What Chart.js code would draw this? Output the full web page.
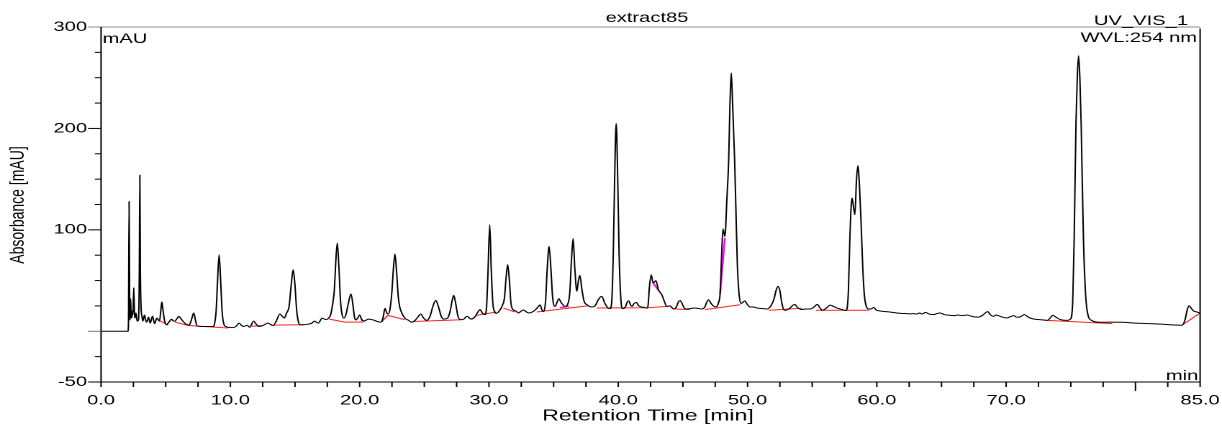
<!DOCTYPE html>
<html>
<head>
<meta charset="utf-8">
<script src="https://cdn.jsdelivr.net/npm/chart.js@4"></script>
<style>
  html, body { margin: 0; padding: 0; background: #fff; overflow: hidden; }
  /* the reference is stretched sideways, so the whole chart is too */
  #wrap { width: 849px; height: 432px; transform: scaleX(1.4393); transform-origin: 0 0; }
</style>
</head>
<body>
<div id="wrap"><canvas id="chart1" width="849" height="432"></canvas></div>
<script>
// chromatogram, [time min, mAU]
const signal = [
  [0,0],[2.08,0],[2.12,8],[2.17,128],[2.21,30],[2.24,11],[2.29,32],[2.33,14],[2.37,13],[2.42,20],
  [2.46,16],[2.53,43],[2.58,18],[2.62,13],[2.7,18],[2.79,10],[2.9,12],[2.96,60],[3.0,154],[3.04,60],
  [3.1,22],[3.15,16],[3.23,10],[3.36,16],[3.45,11],[3.54,9],[3.67,14],[3.8,8],[3.98,15],[4.14,7.5],
  [4.32,13],[4.52,10],[4.62,20],[4.7,29],[4.8,20],[4.92,10],[5.06,6.5],[5.25,9],[5.45,12],[5.6,10],
  [5.7,10],[5.85,12],[6.01,14.7],[6.2,12],[6.48,8],[6.81,6],[6.98,11],[7.17,18],[7.3,11],[7.43,5.3],
  [7.9,4.7],[8.67,4.7],[8.75,6],[8.9,20],[9.0,47],[9.13,75.5],[9.26,47],[9.36,20],[9.5,7],[9.65,4.7],
  [10.0,3.8],[10.22,3.6],[10.45,5],[10.68,8],[10.85,6],[11.0,4.7],[11.3,6],[11.5,4],[11.8,10],[12.0,7],
  [12.2,4.7],[12.5,5.5],[12.9,8],[13.3,5.7],[13.55,10],[13.83,17],[14.0,15],[14.17,13],[14.35,18],
  [14.55,25],[14.7,45],[14.86,60.7],[15.0,45],[15.12,22],[15.25,10],[15.38,6.5],[15.7,6.5],[16.0,7],
  [16.3,8],[16.5,10],[16.8,8],[17.1,13],[17.4,11.5],[17.6,13],[17.75,16],[17.95,30],[18.05,42],
  [18.15,68],[18.27,87],[18.4,62],[18.52,30],[18.65,16],[18.78,13],[18.95,17],[19.1,26],[19.33,36.7],
  [19.5,24],[19.6,14],[19.7,11],[19.85,13],[20.0,16],[20.15,12],[20.3,10],[20.5,11],[20.7,12],
  [21.1,11],[21.57,9],[21.7,9.5],[21.82,14],[21.96,22.6],[22.1,18],[22.2,17],[22.35,22],[22.5,40],
  [22.6,60],[22.73,76.2],[22.86,58],[22.98,35],[23.1,24],[23.3,17],[23.5,13],[23.75,11],[24.02,9],
  [24.3,11],[24.5,14],[24.72,17],[24.95,13],[25.18,10.8],[25.45,15],[25.65,24],[25.88,30.5],[26.1,24],
  [26.3,15],[26.5,12],[26.8,13],[27.0,20],[27.15,30],[27.28,35.4],[27.42,28],[27.6,15],[27.8,11.5],
  [28.05,12],[28.3,14.8],[28.6,12],[28.9,14],[29.1,18],[29.31,21.3],[29.5,18],[29.7,16.4],[29.82,25],
  [29.93,60],[30.06,105],[30.18,60],[30.3,28],[30.45,19],[30.55,17.7],[30.8,20],[31.04,25.5],[31.2,33],
  [31.32,52],[31.45,65.7],[31.58,50],[31.7,28],[31.89,21],[32.08,20],[32.28,18],[32.5,20],[32.7,21],
  [32.9,19],[33.1,18],[33.35,19],[33.6,21.3],[33.8,24],[33.95,26],[34.1,21],[34.2,19.5],[34.38,30],
  [34.5,60],[34.65,83.7],[34.8,60],[34.92,34],[35.1,24.5],[35.25,28],[35.4,32.1],[35.6,28],[35.9,24.5],
  [36.1,27],[36.25,38],[36.38,70],[36.51,91.3],[36.64,62],[36.8,39.5],[36.92,50],[37.03,55.1],
  [37.18,42],[37.35,30],[37.6,26],[37.97,24],[38.2,25],[38.5,32],[38.73,34.4],[38.95,28],[39.2,23],
  [39.37,22.3],[39.5,30],[39.62,80],[39.72,150],[39.84,204.7],[39.96,150],[40.06,80],[40.2,32],
  [40.35,22.3],[40.55,24],[40.7,29],[40.81,30],[40.95,26],[41.07,24.5],[41.2,27],[41.38,28.5],
  [41.6,25],[41.8,24],[41.97,23.7],[42.1,23],[42.2,22.8],[42.3,25],[42.4,42],[42.55,55.8],[42.7,47.5],
  [42.91,50],[43.1,41.2],[43.37,36],[43.55,30],[43.76,24.6],[44.0,25],[44.28,22],[44.5,24],[44.65,29],
  [44.79,30.2],[44.95,27],[45.1,23],[45.3,22],[45.6,22.5],[45.94,23],[46.2,22.5],[46.46,22],[46.7,24],
  [46.85,29],[46.98,31],[47.15,28],[47.35,25],[47.57,24],[47.75,28],[47.88,37.8],[47.98,70],
  [48.1,100.9],[48.25,93.5],[48.4,130],[48.54,169],[48.64,225],[48.74,254.7],[48.84,225],[49.0,169],
  [49.1,120],[49.2,70],[49.32,40],[49.49,27.4],[49.6,28],[49.78,30],[49.95,27],[50.2,24],[50.45,24],
  [50.73,23],[51.1,22.5],[51.5,22],[51.8,25],[52.05,32],[52.2,40],[52.35,44.3],[52.5,40],[52.65,28],
  [52.84,20.7],[53.2,22],[53.45,25],[53.64,26.5],[53.9,23],[54.2,21.4],[54.5,22],[54.85,22],
  [55.15,24],[55.4,26.5],[55.6,23],[55.8,20.7],[56.1,23],[56.4,25.8],[56.65,24.5],[56.9,23],
  [57.3,21.5],[57.64,20.4],[57.8,40],[57.92,95],[58.08,131.4],[58.2,122],[58.3,115],[58.42,148],
  [58.53,163.3],[58.65,145],[58.8,100],[58.92,60],[59.04,35],[59.2,24],[59.37,22],[59.55,22],
  [59.76,23.5],[59.95,21],[60.28,20],[60.6,19.5],[61.0,19],[61.3,18.5],[61.56,18],[61.83,17.7],
  [62.2,17.5],[62.5,17.2],[62.85,17.4],[63.1,17],[63.3,18],[63.5,17],[63.75,18.7],[64.05,17],
  [64.4,16.4],[64.65,17.5],[64.9,18],[65.2,16.5],[65.5,16],[65.94,15.4],[66.3,16],[66.6,15.5],
  [66.97,16],[67.4,14.5],[67.87,14],[68.2,16],[68.57,19.4],[68.8,16],[69.03,14.8],[69.2,16],
  [69.4,15.4],[69.7,14],[70.06,13.1],[70.35,14.5],[70.6,15.4],[70.78,14],[70.95,13.8],[71.2,15],
  [71.4,16.4],[71.7,14],[72.1,12.1],[72.6,11.5],[73.18,10.8],[73.4,13],[73.6,15.7],[73.85,14],
  [74.1,12],[74.4,11],[74.72,10.8],[74.97,12],[75.15,30],[75.26,90],[75.4,205],[75.5,250],
  [75.6,271.8],[75.7,250],[75.8,205],[75.98,90],[76.15,35],[76.35,15],[76.57,11],[77.27,8.9],
  [78.0,9],[78.97,8.9],[80.0,8],[81.03,7.6],[82.0,7],[82.83,6.3],[83.6,6],[83.85,12],[84.0,21],
  [84.15,25.2],[84.3,23],[84.5,20],[84.75,19],[85,18]
];

// integration baselines (red)
const baselines = [
  [[4.55,10.4],[5.19,5.8]],
  [[5.7,9.1],[6.73,5.8],[7.77,4.8],[9.83,3.2]],
  [[11.64,4.8],[12.54,5.8]],
  [[13.31,6.1],[15.63,6.4]],
  [[17.65,12],[18.86,9],[20.28,9]],
  [[21.7,9.5],[22.2,15.7],[23.5,11.4]],
  [[24.1,9.7],[27.9,11.4]],
  [[29.06,15.7],[30.55,19]],
  [[31.12,22.9],[32.02,19]],
  [[33.7,19],[37.7,25.2]],
  [[38.34,22.9],[42.2,23.2],[43.9,24.6]],
  [[44.4,22],[45.55,21.4]],
  [[46.72,21.4],[49.43,26.2]],
  [[51.63,20.7],[54.2,22.7]],
  [[55.3,20.7],[59.4,20.7]],
  [[73.18,10.8],[78.2,7.6]],
  [[83.6,6],[85,18]]
];

// peak skims (magenta)
const skims = [
  [[20.1,11.5],[20.3,10.2]],
  [[35.5,23.4],[36.2,24.6]],
  [[42.7,47.5],[43.1,40.5]],
  [[47.88,37],[48.25,92]]
];

const yLabelValues = [-50, 100, 200, 300];
const yLongTicks = [-50, 0, 100, 200, 300];
const xLabelValues = [0, 10, 20, 30, 40, 50, 60, 70, 85];

const FONT = '"Liberation Sans", Arial, sans-serif';

function withGaps(segs) {
  const out = [];
  segs.forEach(s => {
    s.forEach(p => out.push({x: p[0], y: p[1]}));
    out.push({x: s[s.length - 1][0], y: null});
  });
  return out;
}

function line(ctx, x1, y1, x2, y2) {
  ctx.beginPath();
  ctx.moveTo(x1, y1);
  ctx.lineTo(x2, y2);
  ctx.stroke();
}

const frame = {
  id: 'frame',
  afterDraw(chart) {
    const {ctx, chartArea: a, scales: {x, y}} = chart;
    ctx.save();
    ctx.lineWidth = 1;
    // axes
    ctx.strokeStyle = '#8a8a8a';
    line(ctx, a.left - 9, a.top, a.right, a.top);
    ctx.strokeStyle = '#000';
    line(ctx, a.left, a.top, a.left, a.bottom);
    line(ctx, a.right, a.top + 1.5, a.right, a.bottom);
    line(ctx, a.left, a.bottom, a.right, a.bottom);
    // y ticks
    y.ticks.forEach(t => {
      const py = y.getPixelForValue(t.value);
      const len = yLongTicks.includes(t.value) ? 9 : 4.3;
      if (t.value === 300) return;
      ctx.strokeStyle = t.value === 0 ? '#777' : '#000';
      line(ctx, a.left - len, py, a.left, py);
    });
    // x ticks
    ctx.strokeStyle = '#000';
    x.ticks.forEach(t => {
      const px = x.getPixelForValue(t.value);
      const len = t.value === 80 ? 9 : 5;
      line(ctx, px, a.bottom, px, a.bottom + len);
    });
    // texts
    ctx.fillStyle = '#000';
    ctx.font = '14px ' + FONT;
    ctx.textBaseline = 'alphabetic';
    ctx.textAlign = 'center';
    ctx.fillText('extract85', 449.5, 22);
    ctx.textAlign = 'right';
    ctx.fillText('UV_VIS_1', 825.4, 25);
    ctx.fillText('WVL:254 nm', 831.7, 42);
    ctx.fillText('min', 832.5, 380);
    ctx.textAlign = 'left';
    ctx.fillText('mAU', 71.2, 43);
    ctx.textAlign = 'center';
    ctx.textBaseline = 'middle';
    ctx.font = '16px ' + FONT;
    ctx.fillText('Retention Time [min]', 450.2, 416);
    ctx.font = '14px ' + FONT;
    ctx.translate(12.5, 205);
    ctx.rotate(-Math.PI / 2);
    ctx.fillText('Absorbance [mAU]', 0, 0);
    ctx.restore();
  }
};

new Chart(document.getElementById('chart1'), {
  type: 'line',
  data: {
    datasets: [{
      label: 'UV_VIS_1',
      data: signal.map(p => ({x: p[0], y: p[1]})),
      borderColor: '#000',
      borderWidth: 1,
      pointRadius: 0,
      cubicInterpolationMode: 'monotone'
    }, {
      label: 'baseline',
      data: withGaps(baselines),
      borderColor: '#ff2020',
      borderWidth: 1,
      pointRadius: 0,
      spanGaps: false
    }, {
      label: 'skim',
      data: withGaps(skims),
      borderColor: '#ff00ff',
      borderWidth: 1.3,
      pointRadius: 0,
      spanGaps: false
    }]
  },
  options: {
    responsive: false,
    animation: false,
    devicePixelRatio: 2,
    layout: {padding: {top: 27, right: 15.2, left: 0, bottom: 0}},
    plugins: {legend: {display: false}, tooltip: {enabled: false}},
    scales: {
      x: {
        type: 'linear',
        min: 0, max: 85,
        grid: {display: false, drawTicks: false},
        border: {display: false},
        afterFit: s => { s.height = 50; s.paddingLeft = 0; s.paddingRight = 0; },
        ticks: {
          stepSize: 2.5,
          autoSkip: false,
          maxRotation: 0,
          padding: 10,
          color: '#000',
          font: {family: FONT, size: 14},
          callback: v => xLabelValues.includes(v) ? v.toFixed(1) : ''
        }
      },
      y: {
        min: -50, max: 300,
        grid: {display: false, drawTicks: false},
        border: {display: false},
        afterFit: s => { s.width = 70.2; s.paddingTop = 0; s.paddingBottom = 0; },
        ticks: {
          stepSize: 25,
          autoSkip: false,
          padding: 9.7,
          color: '#000',
          font: {family: FONT, size: 14},
          callback: v => yLabelValues.includes(v) ? String(v) : ''
        }
      }
    }
  },
  plugins: [frame]
});
</script>
</body>
</html>
